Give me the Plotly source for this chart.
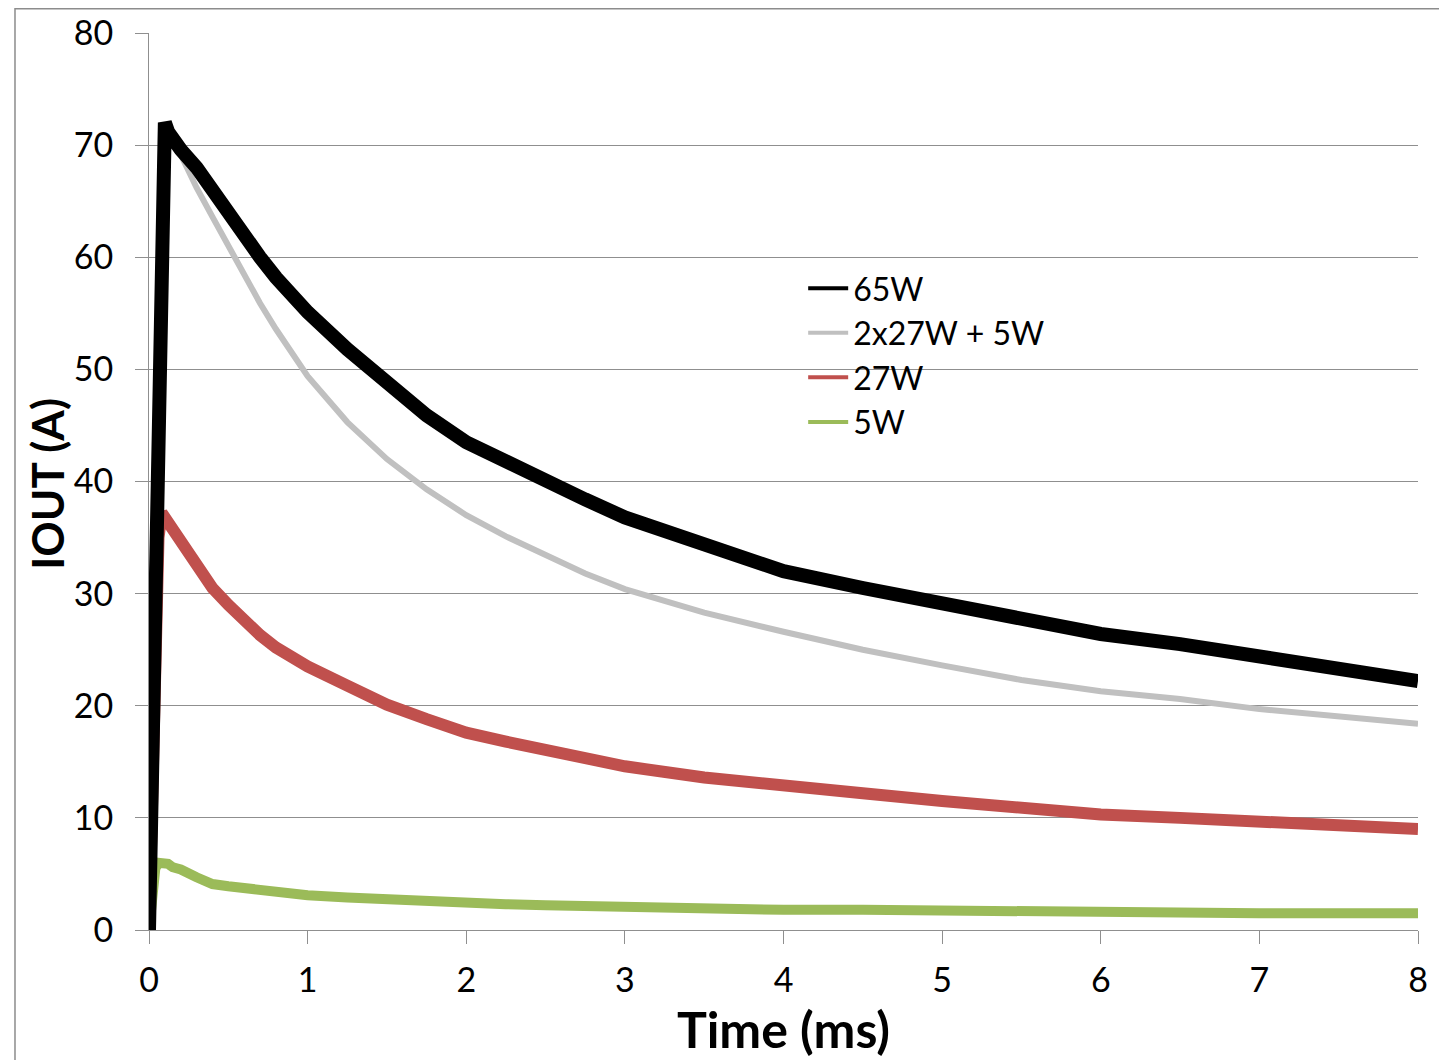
import plotly.graph_objects as go

# ---- data ----
time_ms = [0, 0.02, 0.04, 0.06, 0.08, 0.10, 0.12, 0.15, 0.2, 0.3, 0.4, 0.5, 0.6, 0.7, 0.8, 0.9,
           1.0, 1.25, 1.5, 1.75, 2.0, 2.25, 2.5, 2.75, 3.0, 3.5, 4.0, 4.5, 5.0, 5.5, 6.0, 6.5,
           7.0, 7.5, 8.0]

iout_65w = [0, 15, 35, 55, 67, 72.0, 71.2, 70.5, 69.6, 68.0, 65.9, 63.9, 61.9, 60.0, 58.2, 56.6,
            55.1, 51.8, 48.7, 45.9, 43.5, 41.7, 40.1, 38.4, 36.8, 34.3, 32.0, 30.5, 29.2, 27.8, 26.4, 25.5,
            24.4, 23.4, 22.2]

iout_2x27w_5w = [0, 10, 30, 55, 66, 70.5, 71.5, 70.6, 69.0, 66.2, 63.6, 61.0, 58.4, 55.9, 53.6, 51.4,
                 49.4, 45.3, 42.0, 39.3, 37.0, 35.1, 33.4, 31.8, 30.4, 28.3, 26.6, 25.0, 23.6, 22.3, 21.3, 20.6,
                 19.7, 19.0, 18.4]

iout_27w = [0, 12, 28, 35, 37.2, 36.8, 36.4, 35.8, 34.8, 32.4, 30.5, 29.0, 27.5, 26.3, 25.2, 24.2,
            23.5, 21.8, 20.1, 18.8, 17.6, 16.8, 16.1, 15.3, 14.6, 13.6, 12.8, 12.2, 11.5, 10.8, 10.3, 10.0,
            9.6, 9.2, 9.0]

iout_5w = [0, 3.0, 5.5, 6.0, 6.0, 6.1, 5.9, 5.6, 5.4, 4.7, 4.1, 3.9, 3.7, 3.5, 3.3, 3.2,
           3.1, 2.9, 2.7, 2.5, 2.4, 2.3, 2.2, 2.1, 2.0, 1.9, 1.8, 1.8, 1.7, 1.7, 1.6, 1.6,
           1.5, 1.5, 1.5]

series_names = ["65W", "2x27W + 5W", "27W", "5W"]
series_values = [iout_65w, iout_2x27w_5w, iout_27w, iout_5w]
series_colors = ["#000000", "#C0C0C0", "#C0504D", "#9BBB59"]
series_widths = [14, 6, 12, 10]

x_ticks = [0, 1, 2, 3, 4, 5, 6, 7, 8]
y_ticks = [0, 10, 20, 30, 40, 50, 60, 70, 80]

FONT = "Lato, Carlito, Calibri, sans-serif"
GRID = "#8f8f8f"

fig = go.Figure()

# traces (drawn in reverse so black is on top)
for name, vals, col, w in reversed(list(zip(series_names, series_values, series_colors, series_widths))):
    fig.add_trace(go.Scatter(x=time_ms, y=vals, mode="lines", name=name,
                             line=dict(color=col, width=w), showlegend=False,
                             hoverinfo="x+y+name"))

# legend-only entries with thin sample lines
for name, col in zip(series_names, series_colors):
    fig.add_trace(go.Scatter(x=[None], y=[None], mode="lines", name=name,
                             line=dict(color=col, width=4), showlegend=True))

fig.update_layout(
    width=1439, height=1052,
    margin=dict(l=141, r=29, t=25, b=130, autoexpand=False),
    paper_bgcolor="white", plot_bgcolor="white",
    font=dict(family=FONT, color="#000000"),
    showlegend=True,
    legend=dict(x=0.5155, y=0.746, xanchor="left", yanchor="top",
                bgcolor="rgba(0,0,0,0)", font=dict(size=32, family=FONT),
                itemwidth=40, tracegroupgap=0, traceorder="normal"),
    xaxis=dict(range=[0, 8], tickvals=x_ticks, showgrid=False, zeroline=False,
               showline=True, linecolor=GRID, linewidth=1, automargin=False,
               ticks="outside", ticklen=13, tickcolor=GRID, tickwidth=1,
               ticklabelstandoff=7,
               tickfont=dict(size=34, family=FONT),
               title=dict(text="<b>Time (ms)</b>", font=dict(size=50, family=FONT), standoff=8)),
    yaxis=dict(range=[0, 80], tickvals=y_ticks, showgrid=True, gridcolor=GRID, gridwidth=1,
               zeroline=False, showline=True, linecolor=GRID, linewidth=1, automargin=False,
               ticks="outside", ticklen=13, tickcolor=GRID, tickwidth=1,
               ticklabelstandoff=15,
               tickfont=dict(size=34, family=FONT)),
    annotations=[dict(text="<b>IOUT (A)</b>", xref="paper", yref="paper",
                      x=-0.080, y=0.498, xanchor="center", yanchor="middle",
                      textangle=-90, showarrow=False,
                      font=dict(size=44, family=FONT, color="#000000"))],
    shapes=[dict(type="rect", xref="paper", yref="paper",
                 x0=-0.1056, x1=1.04, y0=-0.16, y1=1.027,
                 line=dict(color="#8c8c8c", width=1.5), fillcolor="rgba(0,0,0,0)", layer="below")],
)

fig.write_html("out.html")
